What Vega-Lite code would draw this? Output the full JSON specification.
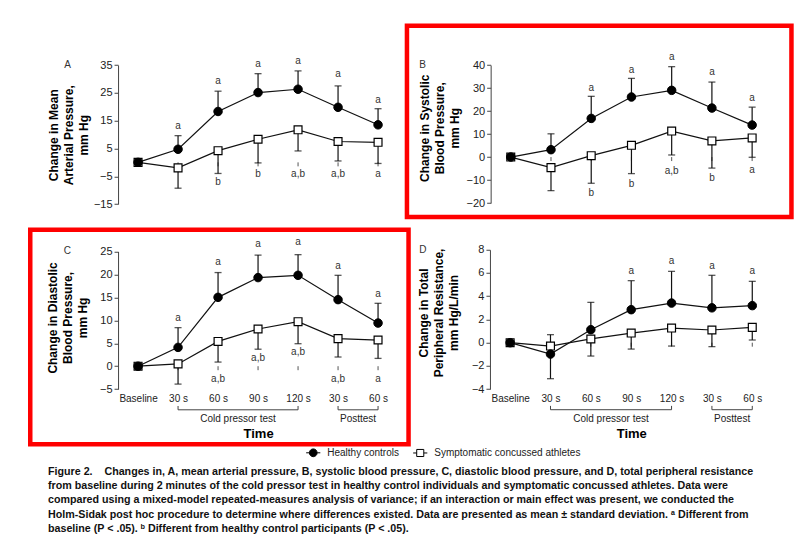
{
  "$schema": "https://vega.github.io/schema/vega-lite/v6.json",
  "padding": {"left": 27.25, "top": 22.75, "right": 0, "bottom": 0},
  "background": "white",
  "datasets": {
    "pts": [
      {"panel": "A", "group": "Symptomatic concussed athletes", "t": 0, "mean": 0, "bar": null},
      {"panel": "A", "group": "Symptomatic concussed athletes", "t": 1, "mean": -2.0, "bar": -9.3},
      {"panel": "A", "group": "Symptomatic concussed athletes", "t": 2, "mean": 4.2, "bar": -4.0},
      {"panel": "A", "group": "Symptomatic concussed athletes", "t": 3, "mean": 8.3, "bar": -0.2},
      {"panel": "A", "group": "Symptomatic concussed athletes", "t": 4, "mean": 11.7, "bar": 4.1},
      {"panel": "A", "group": "Symptomatic concussed athletes", "t": 5, "mean": 7.5, "bar": 0.5},
      {"panel": "A", "group": "Symptomatic concussed athletes", "t": 6, "mean": 7.2, "bar": -0.4},
      {"panel": "A", "group": "Healthy controls", "t": 0, "mean": 0, "bar": null},
      {"panel": "A", "group": "Healthy controls", "t": 1, "mean": 4.7, "bar": 9.6},
      {"panel": "A", "group": "Healthy controls", "t": 2, "mean": 18.3, "bar": 25.6},
      {"panel": "A", "group": "Healthy controls", "t": 3, "mean": 25.1, "bar": 31.9},
      {"panel": "A", "group": "Healthy controls", "t": 4, "mean": 26.3, "bar": 32.9},
      {"panel": "A", "group": "Healthy controls", "t": 5, "mean": 19.8, "bar": 27.5},
      {"panel": "A", "group": "Healthy controls", "t": 6, "mean": 13.5, "bar": 19.3},
      {"panel": "B", "group": "Symptomatic concussed athletes", "t": 0, "mean": 0, "bar": null},
      {"panel": "B", "group": "Symptomatic concussed athletes", "t": 1, "mean": -4.6, "bar": -14.6},
      {"panel": "B", "group": "Symptomatic concussed athletes", "t": 2, "mean": 0.6, "bar": -11.4},
      {"panel": "B", "group": "Symptomatic concussed athletes", "t": 3, "mean": 5.1, "bar": -7.2},
      {"panel": "B", "group": "Symptomatic concussed athletes", "t": 4, "mean": 11.3, "bar": 0.9},
      {"panel": "B", "group": "Symptomatic concussed athletes", "t": 5, "mean": 7.0, "bar": -4.8},
      {"panel": "B", "group": "Symptomatic concussed athletes", "t": 6, "mean": 8.3, "bar": -0.1},
      {"panel": "B", "group": "Healthy controls", "t": 0, "mean": 0, "bar": null},
      {"panel": "B", "group": "Healthy controls", "t": 1, "mean": 3.2, "bar": 10.1},
      {"panel": "B", "group": "Healthy controls", "t": 2, "mean": 16.8, "bar": 26.4},
      {"panel": "B", "group": "Healthy controls", "t": 3, "mean": 26.1, "bar": 34.2},
      {"panel": "B", "group": "Healthy controls", "t": 4, "mean": 29.0, "bar": 39.3},
      {"panel": "B", "group": "Healthy controls", "t": 5, "mean": 21.3, "bar": 32.6},
      {"panel": "B", "group": "Healthy controls", "t": 6, "mean": 13.9, "bar": 21.7},
      {"panel": "C", "group": "Symptomatic concussed athletes", "t": 0, "mean": 0, "bar": null},
      {"panel": "C", "group": "Symptomatic concussed athletes", "t": 1, "mean": 0.5, "bar": -3.9},
      {"panel": "C", "group": "Symptomatic concussed athletes", "t": 2, "mean": 5.4, "bar": 0.9},
      {"panel": "C", "group": "Symptomatic concussed athletes", "t": 3, "mean": 8.1, "bar": 3.7},
      {"panel": "C", "group": "Symptomatic concussed athletes", "t": 4, "mean": 9.7, "bar": 4.9},
      {"panel": "C", "group": "Symptomatic concussed athletes", "t": 5, "mean": 6.0, "bar": 2.0},
      {"panel": "C", "group": "Symptomatic concussed athletes", "t": 6, "mean": 5.7, "bar": 1.7},
      {"panel": "C", "group": "Healthy controls", "t": 0, "mean": 0, "bar": null},
      {"panel": "C", "group": "Healthy controls", "t": 1, "mean": 4.1, "bar": 8.4},
      {"panel": "C", "group": "Healthy controls", "t": 2, "mean": 15.0, "bar": 20.4},
      {"panel": "C", "group": "Healthy controls", "t": 3, "mean": 19.3, "bar": 24.2},
      {"panel": "C", "group": "Healthy controls", "t": 4, "mean": 19.8, "bar": 24.3},
      {"panel": "C", "group": "Healthy controls", "t": 5, "mean": 14.5, "bar": 19.8},
      {"panel": "C", "group": "Healthy controls", "t": 6, "mean": 9.4, "bar": 13.7},
      {"panel": "D", "group": "Symptomatic concussed athletes", "t": 0, "mean": 0, "bar": null},
      {"panel": "D", "group": "Symptomatic concussed athletes", "t": 1, "mean": -0.29, "bar": 0.69},
      {"panel": "D", "group": "Symptomatic concussed athletes", "t": 2, "mean": 0.32, "bar": -1.15},
      {"panel": "D", "group": "Symptomatic concussed athletes", "t": 3, "mean": 0.83, "bar": -0.55},
      {"panel": "D", "group": "Symptomatic concussed athletes", "t": 4, "mean": 1.26, "bar": -0.29},
      {"panel": "D", "group": "Symptomatic concussed athletes", "t": 5, "mean": 1.09, "bar": -0.34},
      {"panel": "D", "group": "Symptomatic concussed athletes", "t": 6, "mean": 1.32, "bar": 0.23},
      {"panel": "D", "group": "Healthy controls", "t": 0, "mean": 0, "bar": null},
      {"panel": "D", "group": "Healthy controls", "t": 1, "mean": -0.98, "bar": -3.1},
      {"panel": "D", "group": "Healthy controls", "t": 2, "mean": 1.12, "bar": 3.47},
      {"panel": "D", "group": "Healthy controls", "t": 3, "mean": 2.84, "bar": 5.34},
      {"panel": "D", "group": "Healthy controls", "t": 4, "mean": 3.41, "bar": 6.14},
      {"panel": "D", "group": "Healthy controls", "t": 5, "mean": 3.0, "bar": 5.8},
      {"panel": "D", "group": "Healthy controls", "t": 6, "mean": 3.19, "bar": 5.28}
    ],
    "labels": [
      {"panel": "A", "t": -1.76, "label": "A", "y": 35},
      {"panel": "A", "t": 1, "label": "a", "y": 13.2},
      {"panel": "A", "t": 2, "label": "a", "y": 29.1},
      {"panel": "A", "t": 3, "label": "a", "y": 35.3},
      {"panel": "A", "t": 4, "label": "a", "y": 36.5},
      {"panel": "A", "t": 5, "label": "a", "y": 31.7},
      {"panel": "A", "t": 6, "label": "a", "y": 22.6},
      {"panel": "A", "t": 2, "label": "b", "y": -7.2},
      {"panel": "A", "t": 3, "label": "b", "y": -4.3},
      {"panel": "A", "t": 4, "label": "a,b", "y": -4.3},
      {"panel": "A", "t": 5, "label": "a,b", "y": -4.3},
      {"panel": "A", "t": 6, "label": "a", "y": -4.3},
      {"panel": "B", "t": -2.19, "label": "B", "y": 40},
      {"panel": "B", "t": 2, "label": "a", "y": 29.9},
      {"panel": "B", "t": 3, "label": "a", "y": 37.7},
      {"panel": "B", "t": 4, "label": "a", "y": 43.3},
      {"panel": "B", "t": 5, "label": "a", "y": 36.8},
      {"panel": "B", "t": 6, "label": "a", "y": 25.5},
      {"panel": "B", "t": 2, "label": "b", "y": -15.7},
      {"panel": "B", "t": 3, "label": "b", "y": -11.6},
      {"panel": "B", "t": 4, "label": "a,b", "y": -5.9},
      {"panel": "B", "t": 5, "label": "b", "y": -9.1},
      {"panel": "B", "t": 6, "label": "a", "y": -5.7},
      {"panel": "C", "t": -1.77, "label": "C", "y": 25.2},
      {"panel": "C", "t": 1, "label": "a", "y": 10.5},
      {"panel": "C", "t": 2, "label": "a", "y": 22.6},
      {"panel": "C", "t": 3, "label": "a", "y": 26.6},
      {"panel": "C", "t": 4, "label": "a", "y": 27.0},
      {"panel": "C", "t": 5, "label": "a", "y": 21.9},
      {"panel": "C", "t": 6, "label": "a", "y": 15.7},
      {"panel": "C", "t": 2, "label": "a,b", "y": -2.8},
      {"panel": "C", "t": 3, "label": "a,b", "y": 1.75},
      {"panel": "C", "t": 4, "label": "a,b", "y": 3.0},
      {"panel": "C", "t": 5, "label": "a,b", "y": -2.8},
      {"panel": "C", "t": 6, "label": "a", "y": -2.8},
      {"panel": "D", "t": -2.16, "label": "D", "y": 8},
      {"panel": "D", "t": 3, "label": "a", "y": 6.2},
      {"panel": "D", "t": 4, "label": "a", "y": 7.0},
      {"panel": "D", "t": 5, "label": "a", "y": 6.63},
      {"panel": "D", "t": 6, "label": "a", "y": 6.2}
    ],
    "brackets": [
      {"panel": "C", "phase": "Cold pressor test", "start": 1, "end": 4, "mid": 2.5, "y": -9.5, "ytop": -8.67, "ytext": -11.46},
      {"panel": "C", "phase": "Posttest", "start": 5, "end": 6, "mid": 5.5, "y": -9.5, "ytop": -8.67, "ytext": -11.46},
      {"panel": "D", "phase": "Cold pressor test", "start": 1, "end": 4, "mid": 2.5, "y": -5.77, "ytop": -5.44, "ytext": -6.54},
      {"panel": "D", "phase": "Posttest", "start": 5, "end": 6, "mid": 5.5, "y": -5.77, "ytop": -5.44, "ytext": -6.54}
    ]
  },
  "columns": 2,
  "align": "none",
  "bounds": "flush",
  "spacing": {"row": 12, "column": -2.3},
  "concat": [
    {
      "width": 370, "height": 191.3,
      "view": {"stroke": null},
      "encoding": {
        "x": {"field": "t", "type": "quantitative", "scale": {"domain": [-0.5, 6.5], "range": [87.8, 367.8]}, "axis": null},
        "y": {"field": "mean", "type": "quantitative",
          "scale": {"domain": [-15, 35], "range": [178.3, 39.3], "zero": false, "nice": false},
          "axis": {"values": [-15, -5, 5, 15, 25, 35], "offset": -87.8, "grid": false, "domainColor": "#444", "tickColor": "#444", "tickSize": 4, "labelFontSize": 11, "labelColor": "#222", "labelPadding": 2,
            "labelExpr": "datum.value < 0 ? '\u2212' + abs(datum.value) : datum.label",
            "title": ["Change in Mean", "Arterial Pressure,", "mm Hg"], "titleX": -64.3, "titleY": 109, "titleAngle": -90, "titleAlign": "center", "titleBaseline": "middle", "titleFontSize": 12, "titleFontWeight": "bold", "titleColor": "#000", "titleLineHeight": 15}}
      },
      "layer": [
        {"data": {"values": [{}]}, "mark": {"type": "rule", "color": "#555", "strokeWidth": 1},
          "encoding": {"x": {"datum": -0.5}, "x2": {"datum": 6.5}, "y": {"datum": 0}}},
        {"data": {"name": "pts"}, "transform": [{"filter": "datum.panel === 'A' && datum.group === 'Healthy controls'"}],
          "mark": {"type": "rule", "color": "#555", "y2Offset": 4}, "encoding": {"y": {"datum": 0}, "y2": {"datum": 0}}},
        {"data": {"name": "pts"}, "transform": [{"filter": "datum.panel === 'A' && isValid(datum.bar)"}],
          "mark": {"type": "rule", "color": "#111", "strokeWidth": 1.2}, "encoding": {"y2": {"field": "bar"}}},
        {"data": {"name": "pts"}, "transform": [{"filter": "datum.panel === 'A' && isValid(datum.bar)"}],
          "mark": {"type": "tick", "orient": "horizontal", "color": "#111", "size": 7, "thickness": 1.3}, "encoding": {"y": {"field": "bar", "type": "quantitative"}}},
        {"data": {"name": "pts"}, "transform": [{"filter": "datum.panel === 'A'"}],
          "mark": {"type": "line", "color": "#111", "strokeWidth": 1.2}, "encoding": {"detail": {"field": "group"}}},
        {"data": {"name": "pts"}, "transform": [{"filter": "datum.panel === 'A' && datum.group === 'Symptomatic concussed athletes'"}],
          "mark": {"type": "point", "shape": "square", "filled": true, "fill": "#fff", "stroke": "#000", "strokeWidth": 1.2, "size": 62, "opacity": 1}},
        {"data": {"name": "pts"}, "transform": [{"filter": "datum.panel === 'A' && datum.group === 'Healthy controls'"}],
          "mark": {"type": "point", "shape": "circle", "filled": true, "fill": "#000", "stroke": "#000", "strokeWidth": 1, "size": 72, "opacity": 1}},
        {"data": {"name": "pts"}, "transform": [{"filter": "datum.panel === 'A' && datum.t === 0"}],
          "mark": {"type": "point", "filled": true, "strokeWidth": 1, "size": 0, "opacity": 1},
          "encoding": {
            "shape": {"field": "group", "type": "nominal",
              "scale": {"domain": ["Healthy controls", "Symptomatic concussed athletes"], "range": ["M-1,0H-0.55M0.55,0H1M-0.55,0A0.55,0.55,0,1,1,0.55,0A0.55,0.55,0,1,1,-0.55,0Z", "M-1,0H-0.5M0.5,0H1M-0.5,-0.5H0.5V0.5H-0.5Z"]},
              "legend": {"orient": "none", "legendX": 275, "legendY": 419, "direction": "horizontal", "title": null, "labelFont": "Liberation Sans", "labelFontSize": 10, "labelColor": "#222", "symbolSize": 200, "symbolStrokeWidth": 1, "symbolOpacity": 1, "columnPadding": 11, "labelOffset": 6}},
            "fill": {"field": "group", "type": "nominal",
              "scale": {"domain": ["Healthy controls", "Symptomatic concussed athletes"], "range": ["#000", "#fff"]},
              "legend": {"orient": "none", "legendX": 275, "legendY": 419, "direction": "horizontal", "title": null, "labelFont": "Liberation Sans", "labelFontSize": 10, "labelColor": "#222", "symbolSize": 200, "symbolStrokeWidth": 1, "symbolOpacity": 1, "columnPadding": 11, "labelOffset": 6}},
            "stroke": {"field": "group", "type": "nominal",
              "scale": {"domain": ["Healthy controls", "Symptomatic concussed athletes"], "range": ["#000", "#000"]},
              "legend": {"orient": "none", "legendX": 275, "legendY": 419, "direction": "horizontal", "title": null, "labelFont": "Liberation Sans", "labelFontSize": 10, "labelColor": "#222", "symbolSize": 200, "symbolStrokeWidth": 1, "symbolOpacity": 1, "columnPadding": 11, "labelOffset": 6}}
          }},
        {"data": {"name": "labels"}, "transform": [{"filter": "datum.panel === 'A'"}],
          "mark": {"type": "text", "fontSize": 10, "color": "#333", "baseline": "middle", "align": "center"},
          "encoding": {"y": {"field": "y", "type": "quantitative"}, "text": {"field": "label"}}}
      ]
    },
    {
      "width": 384.5, "height": 191.3,
      "view": {"stroke": "#ff0000", "strokeWidth": 4.5},
      "encoding": {
        "x": {"field": "t", "type": "quantitative", "scale": {"domain": [-0.5, 6.5], "range": [83.7, 365.3]}, "axis": null},
        "y": {"field": "mean", "type": "quantitative",
          "scale": {"domain": [-20, 40], "range": [177.3, 39.3], "zero": false, "nice": false},
          "axis": {"values": [-20, -10, 0, 10, 20, 30, 40], "offset": -83.7, "grid": false, "domainColor": "#444", "tickColor": "#444", "tickSize": 4, "labelFontSize": 11, "labelColor": "#222", "labelPadding": 2,
            "labelExpr": "datum.value < 0 ? '\u2212' + abs(datum.value) : datum.label",
            "title": ["Change in Systolic", "Blood Pressure,", "mm Hg"], "titleX": -66.5, "titleY": 102, "titleAngle": -90, "titleAlign": "center", "titleBaseline": "middle", "titleFontSize": 12, "titleFontWeight": "bold", "titleColor": "#000", "titleLineHeight": 15}}
      },
      "layer": [
        {"data": {"values": [{}]}, "mark": {"type": "rule", "color": "#555", "strokeWidth": 1},
          "encoding": {"x": {"datum": -0.5}, "x2": {"datum": 6.5}, "y": {"datum": 0}}},
        {"data": {"name": "pts"}, "transform": [{"filter": "datum.panel === 'B' && datum.group === 'Healthy controls'"}],
          "mark": {"type": "rule", "color": "#555", "y2Offset": 4}, "encoding": {"y": {"datum": 0}, "y2": {"datum": 0}}},
        {"data": {"name": "pts"}, "transform": [{"filter": "datum.panel === 'B' && isValid(datum.bar)"}],
          "mark": {"type": "rule", "color": "#111", "strokeWidth": 1.2}, "encoding": {"y2": {"field": "bar"}}},
        {"data": {"name": "pts"}, "transform": [{"filter": "datum.panel === 'B' && isValid(datum.bar)"}],
          "mark": {"type": "tick", "orient": "horizontal", "color": "#111", "size": 7, "thickness": 1.3}, "encoding": {"y": {"field": "bar", "type": "quantitative"}}},
        {"data": {"name": "pts"}, "transform": [{"filter": "datum.panel === 'B'"}],
          "mark": {"type": "line", "color": "#111", "strokeWidth": 1.2}, "encoding": {"detail": {"field": "group"}}},
        {"data": {"name": "pts"}, "transform": [{"filter": "datum.panel === 'B' && datum.group === 'Symptomatic concussed athletes'"}],
          "mark": {"type": "point", "shape": "square", "filled": true, "fill": "#fff", "stroke": "#000", "strokeWidth": 1.2, "size": 62, "opacity": 1}},
        {"data": {"name": "pts"}, "transform": [{"filter": "datum.panel === 'B' && datum.group === 'Healthy controls'"}],
          "mark": {"type": "point", "shape": "circle", "filled": true, "fill": "#000", "stroke": "#000", "strokeWidth": 1, "size": 72, "opacity": 1}},
        {"data": {"name": "labels"}, "transform": [{"filter": "datum.panel === 'B'"}],
          "mark": {"type": "text", "fontSize": 10, "color": "#333", "baseline": "middle", "align": "center"},
          "encoding": {"y": {"field": "y", "type": "quantitative"}, "text": {"field": "label"}}}
      ]
    },
    {
      "width": 378.3, "height": 214.5,
      "view": {"stroke": "#ff0000", "strokeWidth": 4.5},
      "encoding": {
        "x": {"field": "t", "type": "quantitative", "scale": {"domain": [-0.5, 6.5], "range": [87.8, 367.8]},
          "axis": {"values": [0, 1, 2, 3, 4, 5, 6], "labelExpr": "['Baseline','30 s','60 s','90 s','120 s','30 s','60 s'][datum.value]", "domain": false, "ticks": false, "grid": false, "labelPadding": 0, "offset": -50.8, "labelFontSize": 10, "labelColor": "#222", "labelFlush": false, "labelOverlap": false,
            "title": "Time", "titleFontSize": 13, "titleFontWeight": "bold", "titleColor": "#000", "titleX": 227.8, "titleY": 40, "titleBaseline": "middle", "titleAlign": "center"}},
        "y": {"field": "mean", "type": "quantitative",
          "scale": {"domain": [-5, 25], "range": [159.4, 21.7], "zero": false, "nice": false},
          "axis": {"values": [-5, 0, 5, 10, 15, 20, 25], "offset": -87.8, "grid": false, "domainColor": "#444", "tickColor": "#444", "tickSize": 4, "labelFontSize": 11, "labelColor": "#222", "labelPadding": 2,
            "labelExpr": "datum.value < 0 ? '\u2212' + abs(datum.value) : datum.label",
            "title": ["Change in Diastolic", "Blood Pressure,", "mm Hg"], "titleX": -65.6, "titleY": 87.7, "titleAngle": -90, "titleAlign": "center", "titleBaseline": "middle", "titleFontSize": 12, "titleFontWeight": "bold", "titleColor": "#000", "titleLineHeight": 15}}
      },
      "layer": [
        {"data": {"values": [{}]}, "mark": {"type": "rule", "color": "#555", "strokeWidth": 1},
          "encoding": {"x": {"datum": -0.5}, "x2": {"datum": 6.5}, "y": {"datum": 0}}},
        {"data": {"name": "pts"}, "transform": [{"filter": "datum.panel === 'C' && datum.group === 'Healthy controls'"}],
          "mark": {"type": "rule", "color": "#555", "y2Offset": 4}, "encoding": {"y": {"datum": 0}, "y2": {"datum": 0}}},
        {"data": {"name": "brackets"}, "transform": [{"filter": "datum.panel === 'C'"}], "mark": {"type": "rule", "color": "#444", "strokeWidth": 1},
          "encoding": {"x": {"field": "start", "type": "quantitative"}, "x2": {"field": "end"}, "y": {"field": "y", "type": "quantitative"}}},
        {"data": {"name": "brackets"}, "transform": [{"filter": "datum.panel === 'C'"}], "mark": {"type": "rule", "color": "#444", "strokeWidth": 1},
          "encoding": {"x": {"field": "start", "type": "quantitative"}, "y": {"field": "y", "type": "quantitative"}, "y2": {"field": "ytop"}}},
        {"data": {"name": "brackets"}, "transform": [{"filter": "datum.panel === 'C'"}], "mark": {"type": "rule", "color": "#444", "strokeWidth": 1},
          "encoding": {"x": {"field": "end", "type": "quantitative"}, "y": {"field": "y", "type": "quantitative"}, "y2": {"field": "ytop"}}},
        {"data": {"name": "brackets"}, "transform": [{"filter": "datum.panel === 'C'"}], "mark": {"type": "text", "fontSize": 10, "color": "#222", "baseline": "middle", "align": "center"},
          "encoding": {"x": {"field": "mid", "type": "quantitative"}, "y": {"field": "ytext", "type": "quantitative"}, "text": {"field": "phase"}}},
        {"data": {"name": "pts"}, "transform": [{"filter": "datum.panel === 'C' && isValid(datum.bar)"}],
          "mark": {"type": "rule", "color": "#111", "strokeWidth": 1.2}, "encoding": {"y2": {"field": "bar"}}},
        {"data": {"name": "pts"}, "transform": [{"filter": "datum.panel === 'C' && isValid(datum.bar)"}],
          "mark": {"type": "tick", "orient": "horizontal", "color": "#111", "size": 7, "thickness": 1.3}, "encoding": {"y": {"field": "bar", "type": "quantitative"}}},
        {"data": {"name": "pts"}, "transform": [{"filter": "datum.panel === 'C'"}],
          "mark": {"type": "line", "color": "#111", "strokeWidth": 1.2}, "encoding": {"detail": {"field": "group"}}},
        {"data": {"name": "pts"}, "transform": [{"filter": "datum.panel === 'C' && datum.group === 'Symptomatic concussed athletes'"}],
          "mark": {"type": "point", "shape": "square", "filled": true, "fill": "#fff", "stroke": "#000", "strokeWidth": 1.2, "size": 62, "opacity": 1}},
        {"data": {"name": "pts"}, "transform": [{"filter": "datum.panel === 'C' && datum.group === 'Healthy controls'"}],
          "mark": {"type": "point", "shape": "circle", "filled": true, "fill": "#000", "stroke": "#000", "strokeWidth": 1, "size": 72, "opacity": 1}},
        {"data": {"name": "labels"}, "transform": [{"filter": "datum.panel === 'C'"}],
          "mark": {"type": "text", "fontSize": 10, "color": "#333", "baseline": "middle", "align": "center"},
          "encoding": {"y": {"field": "y", "type": "quantitative"}, "text": {"field": "label"}}}
      ]
    },
    {
      "width": 384.5, "height": 214.5,
      "view": {"stroke": null},
      "encoding": {
        "x": {"field": "t", "type": "quantitative", "scale": {"domain": [-0.5, 6.5], "range": [83, 365.5]},
          "axis": {"values": [0, 1, 2, 3, 4, 5, 6], "labelExpr": "['Baseline','30 s','60 s','90 s','120 s','30 s','60 s'][datum.value]", "domain": false, "ticks": false, "grid": false, "labelPadding": 0, "offset": -50.8, "labelFontSize": 10, "labelColor": "#222", "labelFlush": false, "labelOverlap": false,
            "title": "Time", "titleFontSize": 13, "titleFontWeight": "bold", "titleColor": "#000", "titleX": 224.3, "titleY": 40, "titleBaseline": "middle", "titleAlign": "center"}},
        "y": {"field": "mean", "type": "quantitative",
          "scale": {"domain": [-4, 8], "range": [159.4, 20], "zero": false, "nice": false},
          "axis": {"values": [-4, -2, 0, 2, 4, 6, 8], "offset": -83, "grid": false, "domainColor": "#444", "tickColor": "#444", "tickSize": 4, "labelFontSize": 11, "labelColor": "#222", "labelPadding": 2,
            "labelExpr": "datum.value < 0 ? '\u2212' + abs(datum.value) : datum.label",
            "title": ["Change in Total", "Peripheral Resistance,", "mm Hg/L/min"], "titleX": -66.8, "titleY": 82.7, "titleAngle": -90, "titleAlign": "center", "titleBaseline": "middle", "titleFontSize": 12, "titleFontWeight": "bold", "titleColor": "#000", "titleLineHeight": 15}}
      },
      "layer": [
        {"data": {"values": [{}]}, "mark": {"type": "rule", "color": "#555", "strokeWidth": 1},
          "encoding": {"x": {"datum": -0.5}, "x2": {"datum": 6.5}, "y": {"datum": 0}}},
        {"data": {"name": "pts"}, "transform": [{"filter": "datum.panel === 'D' && datum.group === 'Healthy controls'"}],
          "mark": {"type": "rule", "color": "#555", "y2Offset": 4}, "encoding": {"y": {"datum": 0}, "y2": {"datum": 0}}},
        {"data": {"name": "brackets"}, "transform": [{"filter": "datum.panel === 'D'"}], "mark": {"type": "rule", "color": "#444", "strokeWidth": 1},
          "encoding": {"x": {"field": "start", "type": "quantitative"}, "x2": {"field": "end"}, "y": {"field": "y", "type": "quantitative"}}},
        {"data": {"name": "brackets"}, "transform": [{"filter": "datum.panel === 'D'"}], "mark": {"type": "rule", "color": "#444", "strokeWidth": 1},
          "encoding": {"x": {"field": "start", "type": "quantitative"}, "y": {"field": "y", "type": "quantitative"}, "y2": {"field": "ytop"}}},
        {"data": {"name": "brackets"}, "transform": [{"filter": "datum.panel === 'D'"}], "mark": {"type": "rule", "color": "#444", "strokeWidth": 1},
          "encoding": {"x": {"field": "end", "type": "quantitative"}, "y": {"field": "y", "type": "quantitative"}, "y2": {"field": "ytop"}}},
        {"data": {"name": "brackets"}, "transform": [{"filter": "datum.panel === 'D'"}], "mark": {"type": "text", "fontSize": 10, "color": "#222", "baseline": "middle", "align": "center"},
          "encoding": {"x": {"field": "mid", "type": "quantitative"}, "y": {"field": "ytext", "type": "quantitative"}, "text": {"field": "phase"}}},
        {"data": {"name": "pts"}, "transform": [{"filter": "datum.panel === 'D' && isValid(datum.bar)"}],
          "mark": {"type": "rule", "color": "#111", "strokeWidth": 1.2}, "encoding": {"y2": {"field": "bar"}}},
        {"data": {"name": "pts"}, "transform": [{"filter": "datum.panel === 'D' && isValid(datum.bar)"}],
          "mark": {"type": "tick", "orient": "horizontal", "color": "#111", "size": 7, "thickness": 1.3}, "encoding": {"y": {"field": "bar", "type": "quantitative"}}},
        {"data": {"name": "pts"}, "transform": [{"filter": "datum.panel === 'D'"}],
          "mark": {"type": "line", "color": "#111", "strokeWidth": 1.2}, "encoding": {"detail": {"field": "group"}}},
        {"data": {"name": "pts"}, "transform": [{"filter": "datum.panel === 'D' && datum.group === 'Symptomatic concussed athletes'"}],
          "mark": {"type": "point", "shape": "square", "filled": true, "fill": "#fff", "stroke": "#000", "strokeWidth": 1.2, "size": 62, "opacity": 1}},
        {"data": {"name": "pts"}, "transform": [{"filter": "datum.panel === 'D' && datum.group === 'Healthy controls'"}],
          "mark": {"type": "point", "shape": "circle", "filled": true, "fill": "#000", "stroke": "#000", "strokeWidth": 1, "size": 72, "opacity": 1}},
        {"data": {"name": "labels"}, "transform": [{"filter": "datum.panel === 'D'"}],
          "mark": {"type": "text", "fontSize": 10, "color": "#333", "baseline": "middle", "align": "center"},
          "encoding": {"y": {"field": "y", "type": "quantitative"}, "text": {"field": "label"}}}
      ]
    }
  ],
  "title": {
    "text": [
      "Figure 2.\u00a0\u00a0\u00a0\u00a0Changes in, A, mean arterial pressure, B, systolic blood pressure, C, diastolic blood pressure, and D, total peripheral resistance",
      "from baseline during 2 minutes of the cold pressor test in healthy control individuals and symptomatic concussed athletes. Data were",
      "compared using a mixed-model repeated-measures analysis of variance; if an interaction or main effect was present, we conducted the",
      "Holm-Sidak post hoc procedure to determine where differences existed. Data are presented as mean \u00b1 standard deviation. \u1d43 Different from",
      "baseline (P < .05). \u1d47 Different from healthy control participants (P < .05)."
    ],
    "orient": "bottom", "anchor": "start", "font": "Liberation Sans Narrow, Liberation Sans", "fontSize": 10.7, "fontWeight": "bold", "color": "#111", "lineHeight": 14.3, "dx": 20, "offset": 8
  },
  "config": {
    "view": {"stroke": null},
    "font": "Liberation Sans",
    "axis": {"labelFont": "Liberation Sans", "titleFont": "Liberation Sans"},
    "text": {"font": "Liberation Sans"}
  }
}
